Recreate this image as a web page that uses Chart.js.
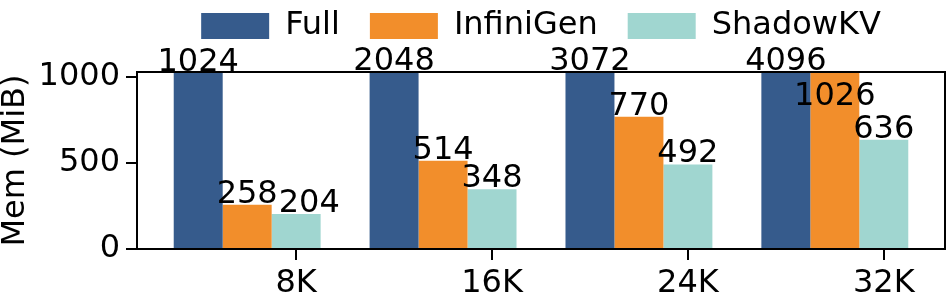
<!DOCTYPE html>
<html>
<head>
<meta charset="utf-8">
<script src="https://cdn.jsdelivr.net/npm/chart.js@4.4.1/dist/chart.umd.min.js"></script>
<style>
  html, body { margin: 0; padding: 0; background: #fff; }
  #wrap { width: 947px; height: 297px; }
</style>
</head>
<body>
<div id="wrap"><canvas id="mycanvas" width="947" height="297"></canvas></div>
<script>
// values
var contexts = ['8K', '16K', '24K', '32K'];
var full = [1024, 2048, 3072, 4096];
var infinigen = [258, 514, 770, 1026];
var shadowkv = [204, 348, 492, 636];
var yTicks = [0, 500, 1000];
var yMax = 1030;

var FONT = 'DejaVu Sans';

function points(vals) {
	var out = [];
	for (var i in vals) {
		out.push({x: Number(i), y: vals[i]});
	}
	return out;
}

// black box round the plot and the numbers over the bars
var framePlugin = {
	id: 'frame',
	afterDatasetsDraw: function(chart) {
		var a = chart.chartArea;
		var ctx = chart.ctx;
		ctx.save();
		ctx.strokeStyle = '#000';
		ctx.lineWidth = 2;
		ctx.strokeRect(a.left, a.top, a.right - a.left, a.bottom - a.top);

		ctx.font = '32px "' + FONT + '"';
		ctx.fillStyle = '#000';
		ctx.textAlign = 'left';
		ctx.textBaseline = 'alphabetic';
		var capH = 23;
		var prev = [];
		chart.data.datasets.forEach(function(ds, d) {
			var meta = chart.getDatasetMeta(d);
			var cur = [];
			meta.data.forEach(function(bar, i) {
				var txt = String(ds.data[i].y);
				var w = ctx.measureText(txt).width;
				var left = bar.x - w / 2;
				var base = Math.max(bar.y, a.top) - 2;
				var p = prev[i];
				if (p && left < p.right && base > p.base - capH && base - capH < p.base) {
					if (p.base <= a.top) {
						// would collide with a label sitting on the frame: drop inside
						base = a.top + 33;
					} else {
						left = p.right + 1;
					}
				}
				ctx.fillText(txt, left, base);
				cur[i] = {right: left + w, base: base};
			});
			prev = cur;
		});
		ctx.restore();
	},
	// short tick marks under the x axis, at the scale's own tick pixels
	afterDraw: function(chart) {
		var a = chart.chartArea;
		var xs = chart.scales.x;
		var ctx = chart.ctx;
		ctx.save();
		ctx.strokeStyle = '#000';
		ctx.lineWidth = 2;
		for (var t = 0; t < xs.ticks.length; t++) {
			var px = Math.round(xs.getPixelForValue(xs.ticks[t].value));
			ctx.beginPath();
			ctx.moveTo(px, a.bottom);
			ctx.lineTo(px, a.bottom + 11);
			ctx.stroke();
		}
		ctx.restore();
	}
};

var chartdata = {
	datasets: [
		{label: 'Full', backgroundColor: '#365B8C', borderWidth: 0, data: points(full)},
		{label: 'InfiniGen', backgroundColor: '#F28E2B', borderWidth: 0, data: points(infinigen)},
		{label: 'ShadowKV', backgroundColor: '#A0D6D0', borderWidth: 0, data: points(shadowkv)}
	]
};

var ctx = document.getElementById('mycanvas');

var barGraph = new Chart(ctx, {
	type: 'bar',
	data: chartdata,
	plugins: [framePlugin],
	options: {
		responsive: false,
		animation: false,
		devicePixelRatio: 1,
		layout: { padding: {top: -20, left: 0, right: 2, bottom: 0} },
		datasets: { bar: { categoryPercentage: 0.75, barPercentage: 1 } },
		plugins: {
			legend: {
				position: 'top',
				fullSize: false,
				labels: {
					boxWidth: 68,
					boxHeight: 26,
					padding: 30,
					color: '#000',
					font: {family: FONT, size: 32}
				}
			},
			tooltip: { enabled: false }
		},
		scales: {
			x: {
				type: 'linear',
				min: -0.5625,
				max: 3.5625,
				offset: false,
				afterBuildTicks: function(s) {
					s.ticks = contexts.map(function(c, i) { return {value: i + 0.25}; });
				},
				afterFit: function(s) { s.height = 48; },
				ticks: {
					color: '#000',
					font: {family: FONT, size: 32},
					padding: 7,
					maxRotation: 0,
					autoSkip: false,
					callback: function(v, i) { return contexts[i]; }
				},
				grid: { display: false },
				border: { display: false }
			},
			top: {
				type: 'linear',
				position: 'top',
				display: true,
				afterFit: function(s) { s.height = 20; },
				ticks: { display: false },
				grid: { display: false },
				border: { display: false }
			},
			y: {
				min: 0,
				max: yMax,
				afterBuildTicks: function(s) {
					s.ticks = yTicks.map(function(v) { return {value: v}; });
				},
				afterFit: function(s) { s.width = 137; },
				ticks: {
					color: '#000',
					font: {family: FONT, size: 32},
					padding: 6,
					callback: function(v) { return String(v); }
				},
				grid: { drawOnChartArea: false, drawTicks: true, tickLength: 11, color: '#000', lineWidth: 2 },
				border: { display: false },
				title: {
					display: true,
					text: 'Mem (MiB)',
					color: '#000',
					font: {family: FONT, size: 32, lineHeight: 1},
					padding: 0
				}
			}
		}
	}
});
</script>
</body>
</html>
